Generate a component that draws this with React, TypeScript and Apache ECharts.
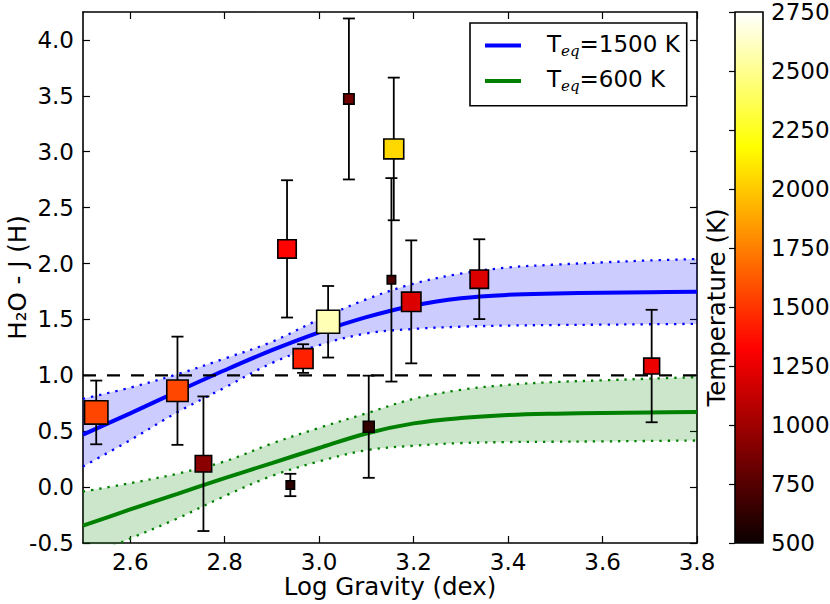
import React, { useEffect, useRef } from "react";
import * as echarts from "echarts";

// ---- Observed objects ----
const logGravity = [2.528, 2.7, 2.755, 2.939, 2.932, 2.966, 3.019, 3.063, 3.105, 3.158, 3.153, 3.195, 3.339, 3.704];
const h2oIndex = [0.668, 0.862, 0.209, 0.019, 2.131, 1.15, 1.479, 3.472, 0.54, 3.025, 1.854, 1.657, 1.86, 1.083];
const h2oError = [0.285, 0.484, 0.602, 0.1, 0.614, 0.128, 0.32, 0.72, 0.457, 0.638, 0.91, 0.55, 0.357, 0.503];
const temperature = [1553, 1560, 931, 610, 1330, 1429, 2583, 841, 636, 2048, 722, 1207, 1207, 1262];
const markerSize = [25, 23, 18, 10, 20, 21.5, 24.5, 12, 12.5, 21.5, 10, 21, 20, 17.5];

// ---- Models ----
const modelLogG = [2.5, 2.6, 2.7, 2.8, 2.9, 3.0, 3.1, 3.2, 3.3, 3.4, 3.5, 3.6, 3.7, 3.8];
const model1500 = [0.47, 0.66, 0.855, 1.045, 1.225, 1.385, 1.52, 1.625, 1.69, 1.72, 1.732, 1.739, 1.744, 1.748];
const model1500Upper = [0.79, 0.89, 1.01, 1.15, 1.3, 1.5, 1.68, 1.82, 1.91, 1.965, 1.99, 2.01, 2.028, 2.04];
const model1500Lower = [0.185, 0.42, 0.67, 0.89, 1.11, 1.27, 1.375, 1.415, 1.435, 1.445, 1.45, 1.453, 1.457, 1.46];
const model600 = [-0.345, -0.2, -0.06, 0.08, 0.215, 0.35, 0.48, 0.57, 0.618, 0.645, 0.657, 0.663, 0.667, 0.671];
const model600Upper = [-0.04, 0.035, 0.12, 0.23, 0.39, 0.53, 0.66, 0.79, 0.87, 0.915, 0.94, 0.955, 0.97, 0.984];
const model600Lower = [-0.64, -0.46, -0.28, -0.08, 0.1, 0.23, 0.33, 0.37, 0.394, 0.403, 0.406, 0.409, 0.413, 0.417];

const legendNames = ["T_eq=1500 K", "T_eq=600 K"];
const referenceLevel = 1.0;

// ---- Axes ----
const xRange = [2.5, 3.8];
const yRange = [-0.5, 4.25];
const xTicks = [2.6, 2.8, 3.0, 3.2, 3.4, 3.6, 3.8];
const yTicks = [-0.5, 0.0, 0.5, 1.0, 1.5, 2.0, 2.5, 3.0, 3.5, 4.0];
const tempRange = [500, 2750];
const tempInterval = 250;

const FONT = "DejaVu Sans";

// matplotlib "hot" colormap
function hot(t: number): string {
  const a = 0.365079, b = 0.746032;
  const r = t < a ? 0.0416 + (1 - 0.0416) * (t / a) : 1;
  const g = t < a ? 0 : t < b ? (t - a) / (b - a) : 1;
  const bl = t < b ? 0 : (t - b) / (1 - b);
  return `rgb(${Math.round(r * 255)},${Math.round(g * 255)},${Math.round(bl * 255)})`;
}
const hotStops = [0, 0.365079, 0.746032, 1].map((o) => ({ offset: o, color: hot(o) }));
const hotSamples = Array.from({ length: 91 }, (_, i) => hot(i / 90));

export default function App() {
  const ref = useRef<HTMLDivElement>(null);

  useEffect(() => {
    const chart = echarts.init(ref.current!, null, { renderer: "svg" });
    const smooth = 0.35;
    const xy = (ys: number[]) => modelLogG.map((x, i) => [x, ys[i]]);
    // value first, so that stacking happens on the y dimension
    const yx = (ys: number[]) => modelLogG.map((x, i) => [ys[i], x]);
    const diff = (up: number[], lo: number[]) => modelLogG.map((x, i) => [+(up[i] - lo[i]).toFixed(4), x]);
    const dotted = (color: string) => ({ color, width: 2.3, type: [2.3, 6], cap: "butt" });

    const band = (stack: string, color: string, lower: number[], upper: number[]) => [
      {
        type: "line", stack, stackStrategy: "all", data: yx(lower), encode: { x: 1, y: 0 }, smooth, symbol: "none",
        lineStyle: dotted(color), itemStyle: { color }, z: 1, silent: true, xAxisIndex: 0, yAxisIndex: 0,
      },
      {
        type: "line", stack, stackStrategy: "all", data: diff(upper, lower), encode: { x: 1, y: 0 }, smooth, symbol: "none",
        lineStyle: dotted(color), itemStyle: { color }, areaStyle: { color, opacity: 0.2 }, z: 1, silent: true,
        xAxisIndex: 0, yAxisIndex: 0,
      },
    ];

    const series: any[] = [
      ...band("b600", "#008000", model600Lower, model600Upper),
      ...band("b1500", "#0000ff", model1500Lower, model1500Upper),
      {
        name: legendNames[0], type: "line", data: xy(model1500), smooth, symbol: "none",
        lineStyle: { color: "#0000ff", width: 4 }, itemStyle: { color: "#0000ff" }, z: 2, xAxisIndex: 0, yAxisIndex: 0,
      },
      {
        name: legendNames[1], type: "line", data: xy(model600), smooth, symbol: "none",
        lineStyle: { color: "#008000", width: 4 }, itemStyle: { color: "#008000" }, z: 2, xAxisIndex: 0, yAxisIndex: 0,
      },
      {
        type: "line", data: xRange.map((x) => [x, referenceLevel]), symbol: "none", silent: true,
        lineStyle: { color: "#000", width: 2.2, type: [13, 11] }, z: 2, xAxisIndex: 0, yAxisIndex: 0,
      },
      {
        type: "custom", xAxisIndex: 0, yAxisIndex: 0, z: 3, silent: true, clip: true,
        data: logGravity.map((x, i) => [x, h2oIndex[i] - h2oError[i], h2oIndex[i] + h2oError[i]]),
        encode: { x: 0, y: [1, 2] },
        renderItem: (_p: any, api: any) => {
          const x = api.value(0);
          const lo = api.coord([x, api.value(1)]);
          const hi = api.coord([x, api.value(2)]);
          const cap = 6;
          const style = { stroke: "#000", lineWidth: 1.8 };
          return {
            type: "group",
            children: [
              { type: "line", shape: { x1: lo[0], y1: lo[1], x2: hi[0], y2: hi[1] }, style },
              { type: "line", shape: { x1: lo[0] - cap, y1: lo[1], x2: lo[0] + cap, y2: lo[1] }, style },
              { type: "line", shape: { x1: hi[0] - cap, y1: hi[1], x2: hi[0] + cap, y2: hi[1] }, style },
            ],
          };
        },
      },
      {
        type: "scatter", xAxisIndex: 0, yAxisIndex: 0, z: 4, silent: true,
        symbol: "rect",
        data: logGravity.map((x, i) => [x, h2oIndex[i], temperature[i], markerSize[i]]),
        symbolSize: (v: number[]) => v[3] - 1.6,
        itemStyle: { borderColor: "#000", borderWidth: 1.6, opacity: 1 },
      },
      {
        type: "custom", xAxisIndex: 2, yAxisIndex: 2, silent: true,
        data: [[0, tempRange[0], 1, tempRange[1]]],
        encode: { x: [0, 2], y: [1, 3] },
        renderItem: (_p: any, api: any) => {
          const p0 = api.coord([api.value(0), api.value(3)]);
          const p1 = api.coord([api.value(2), api.value(1)]);
          return {
            type: "rect",
            shape: { x: p0[0], y: p0[1], width: p1[0] - p0[0], height: p1[1] - p0[1] },
            style: {
              fill: new echarts.graphic.LinearGradient(0, 1, 0, 0, hotStops),
              stroke: "#000",
              lineWidth: 1.6,
            },
          };
        },
      },
    ];
    const scatterIndex = series.findIndex((s) => s.type === "scatter");

    const axisLine = { show: true, onZero: false, lineStyle: { color: "#000", width: 1.6 } };
    const tick = (values: number[]) => ({
      show: true, inside: true, length: 7, customValues: values, lineStyle: { color: "#000", width: 1.2 },
    });
    const label = (values: number[], margin: number) => ({
      show: true, customValues: values, margin, fontSize: 23, fontFamily: FONT, color: "#000",
      formatter: (v: number) => v.toFixed(1),
    });

    const mainRich = { fontSize: 23, fontFamily: FONT, color: "#000", verticalAlign: "top", lineHeight: 26 };

    const option: any = {
      animation: false,
      backgroundColor: "#fff",
      textStyle: { fontFamily: FONT },
      grid: [
        { left: 83, top: 12, width: 614, height: 531, containLabel: false, outerBoundsMode: "none" },
        { left: 735, top: 12, width: 28, height: 531, containLabel: false, outerBoundsMode: "none" },
      ],
      xAxis: [
        {
          gridIndex: 0, type: "value", min: xRange[0], max: xRange[1], position: "bottom",
          axisLine, axisTick: tick(xTicks), axisLabel: label(xTicks, 7), splitLine: { show: false },
          name: "Log Gravity (dex)", nameLocation: "middle", nameGap: 31, nameMoveOverlap: false,
          nameTextStyle: { fontSize: 24.5, fontFamily: FONT, color: "#000" },
        },
        {
          gridIndex: 0, type: "value", min: xRange[0], max: xRange[1], position: "top",
          axisLine, axisTick: tick(xTicks), axisLabel: { show: false }, splitLine: { show: false },
        },
        { gridIndex: 1, type: "value", min: 0, max: 1, show: false },
      ],
      yAxis: [
        {
          gridIndex: 0, type: "value", min: yRange[0], max: yRange[1], position: "left",
          axisLine, axisTick: tick(yTicks), axisLabel: label(yTicks, 9), splitLine: { show: false },
          name: "H\u2082O - J (H)", nameLocation: "middle", nameGap: 53, nameMoveOverlap: false,
          nameTextStyle: { fontSize: 24.5, fontFamily: FONT, color: "#000" },
        },
        {
          gridIndex: 0, type: "value", min: yRange[0], max: yRange[1], position: "right",
          axisLine, axisTick: tick(yTicks), axisLabel: { show: false }, splitLine: { show: false },
        },
        {
          gridIndex: 1, type: "value", min: tempRange[0], max: tempRange[1], interval: tempInterval,
          position: "right", axisLine: { show: false },
          axisTick: { show: true, inside: true, length: 6, lineStyle: { color: "#000", width: 1.2 } },
          axisLabel: {
            show: true, margin: 8, fontSize: 23, fontFamily: FONT, color: "#000",
            formatter: (v: number) => String(v),
          },
          splitLine: { show: false },
        },
        {
          gridIndex: 1, type: "value", min: tempRange[0], max: tempRange[1], position: "left",
          axisLine: { show: false }, axisTick: { show: false }, axisLabel: { show: false }, splitLine: { show: false },
          name: "Temperature (K)", nameLocation: "middle", nameGap: 6, nameMoveOverlap: false,
          nameTextStyle: { fontSize: 24.5, fontFamily: FONT, color: "#000", padding: [0, 60, 0, 0] },
        },
      ],
      visualMap: {
        type: "continuous", show: false, seriesIndex: scatterIndex, dimension: 2,
        min: tempRange[0], max: tempRange[1], inRange: { color: hotSamples },
      },
      legend: {
        data: legendNames.map((name) => ({ name, icon: "rect" })),
        orient: "vertical", left: 470, top: 23,
        itemWidth: 36, itemHeight: 4, itemGap: 9.4,
        padding: [9.5, 7, 11.8, 15],
        borderColor: "#000", borderWidth: 1.6, borderRadius: 0,
        backgroundColor: "#fff",
        selectedMode: false,
        itemStyle: { borderWidth: 0 },
        formatter: (name: string) => `{f|T}{s|eq}{m|=${name.split("=")[1]}}`,
        textStyle: {
          rich: {
            f: { ...mainRich, padding: [0, 0, 3, 21] },
            m: { ...mainRich, padding: [0, 0, 3, 0] },
            s: { fontSize: 15, fontFamily: "DejaVu Serif", fontStyle: "italic", color: "#000", verticalAlign: "bottom", lineHeight: 16 },
          },
        },
      },
      series,
    };

    chart.setOption(option);
    return () => chart.dispose();
  }, []);

  return (
    <div
      ref={ref}
      style={{ position: "fixed", left: 0, top: 0, width: 830, height: 604, background: "#fff" }}
    />
  );
}
